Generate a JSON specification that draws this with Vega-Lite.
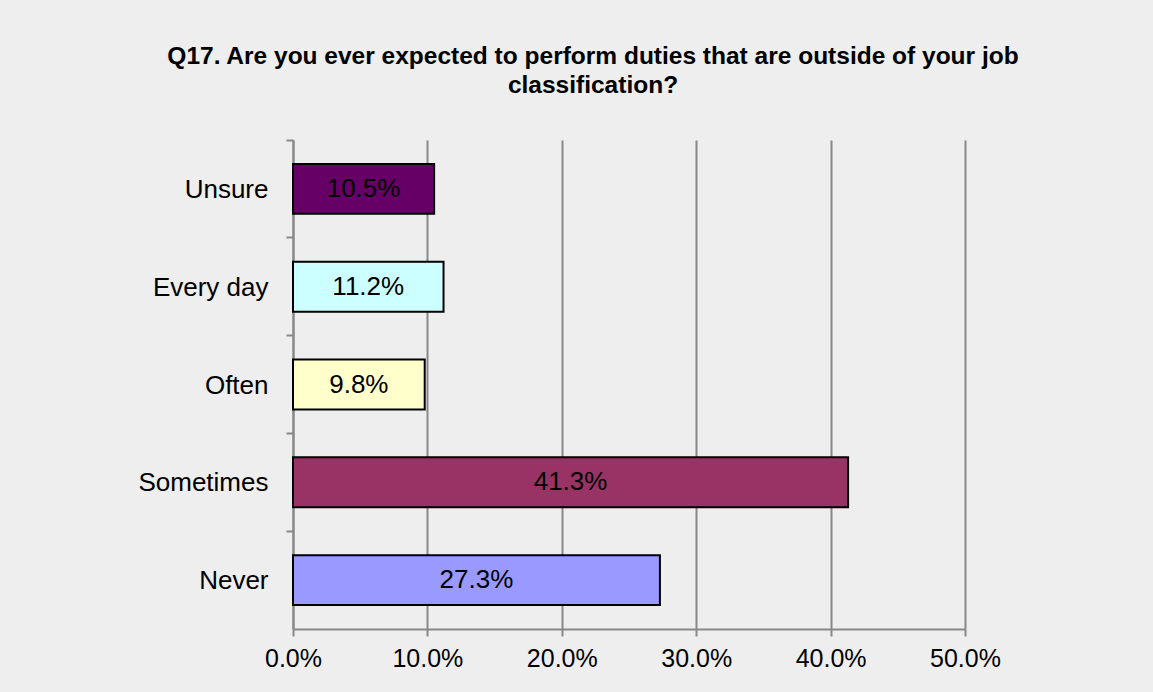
{
  "$schema": "https://vega.github.io/schema/vega-lite/v6.json",
  "width": 672,
  "height": 489,
  "autosize": {"type": "none"},
  "padding": {"left": 293, "top": 140, "right": 188, "bottom": 63},
  "background": "#EEEEEE",
  "config": {
    "view": {"stroke": null},
    "font": "Liberation Sans"
  },
  "title": {
    "text": ["Q17. Are you ever expected to perform duties that are outside of your job", "classification?"],
    "fontSize": 24.5,
    "fontWeight": "bold",
    "font": "Liberation Sans",
    "color": "#000000",
    "anchor": "middle",
    "dx": -36,
    "offset": 41,
    "lineHeight": 29
  },
  "data": {
    "values": [
      {"answer": "Unsure", "pct": 0.105, "label": "10.5%"},
      {"answer": "Every day", "pct": 0.112, "label": "11.2%"},
      {"answer": "Often", "pct": 0.098, "label": "9.8%"},
      {"answer": "Sometimes", "pct": 0.413, "label": "41.3%"},
      {"answer": "Never", "pct": 0.273, "label": "27.3%"}
    ]
  },
  "encoding": {
    "y": {
      "field": "answer",
      "type": "nominal",
      "sort": ["Unsure", "Every day", "Often", "Sometimes", "Never"],
      "scale": {"paddingInner": 0, "paddingOuter": 0},
      "axis": {
        "title": null,
        "bandPosition": 0,
        "domainColor": "#888888",
        "domainWidth": 2,
        "tickColor": "#888888",
        "tickWidth": 2,
        "tickSize": 7,
        "labelFontSize": 26,
        "labelColor": "#000000",
        "labelPadding": 18,
        "labelBound": false,
        "labelOffset": 1,
        "grid": false
      }
    }
  },
  "layer": [
    {
      "mark": {"type": "bar", "stroke": "#000000", "strokeWidth": 2, "height": {"band": 0.51}},
      "encoding": {
        "x": {
          "field": "pct",
          "type": "quantitative",
          "scale": {"domain": [0, 0.5]},
          "axis": {
            "title": null,
            "format": ".1%",
            "values": [0, 0.1, 0.2, 0.3, 0.4, 0.5],
            "grid": true,
            "gridColor": "#888888",
            "gridWidth": 2,
            "domainColor": "#888888",
            "domainWidth": 2,
            "tickColor": "#888888",
            "tickWidth": 2,
            "tickSize": 7,
            "labelFontSize": 25,
            "labelColor": "#000000",
            "labelPadding": 10,
            "labelFlush": false
          }
        },
        "color": {
          "field": "answer",
          "type": "nominal",
          "scale": {
            "domain": ["Unsure", "Every day", "Often", "Sometimes", "Never"],
            "range": ["#660066", "#CCFFFF", "#FFFFCC", "#993366", "#9999FF"]
          },
          "legend": null
        }
      }
    },
    {
      "mark": {"type": "text", "fontSize": 26, "color": "#000000", "align": "center", "baseline": "middle"},
      "encoding": {
        "x": {"field": "pct", "type": "quantitative", "scale": {"domain": [0, 1]}, "axis": null},
        "text": {"field": "label"}
      }
    }
  ],
  "resolve": {"scale": {"x": "independent"}}
}
